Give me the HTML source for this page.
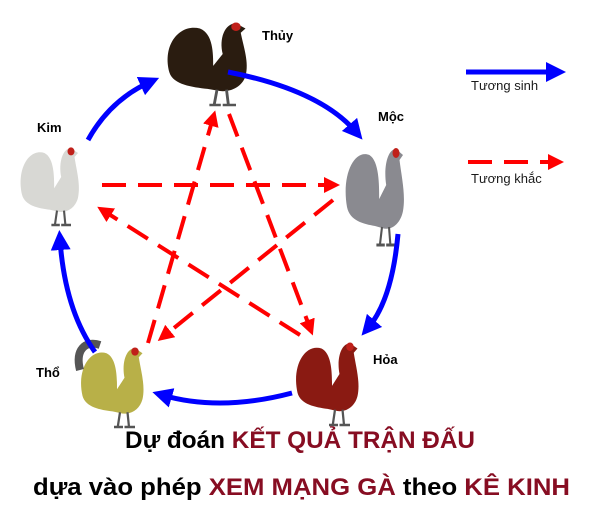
<!DOCTYPE html>
<html><head><meta charset="utf-8"><style>
html,body{margin:0;padding:0;background:#fff;}
svg{display:block;}
.lb{font-family:"Liberation Sans",sans-serif;font-size:13px;font-weight:bold;fill:#000;}
.lg{font-family:"Liberation Sans",sans-serif;font-size:13px;fill:#1a1a1a;}
.t{font-family:"Liberation Sans","Noto Sans CJK SC",sans-serif;font-weight:bold;font-size:24px;fill:#000;}
.r{fill:#870d22;}
</style></head><body>
<svg width="600" height="505" viewBox="0 0 600 505" xmlns="http://www.w3.org/2000/svg">
<defs>
<marker id="ab" markerWidth="4" markerHeight="4" refX="2" refY="2" orient="auto" markerUnits="strokeWidth"><path d="M0,0L4,2L0,4Z" fill="#0000ff"/></marker>
<marker id="ar" markerWidth="4" markerHeight="4" refX="2" refY="2" orient="auto" markerUnits="strokeWidth"><path d="M0,0L4,2L0,4Z" fill="#ff0000"/></marker>
<g id="rooster">
<path d="M10,62 C2,30 20,4 42,10 C56,16 56,40 56,54 L66,40 C62,22 68,4 80,4 L90,10 L85,15 C88,32 94,50 90,66 C86,80 72,86 60,83 L50,81 C34,79 14,76 10,62 Z"/>
<path d="M60,82 L57,100 M70,82 L72,100 M52,100 L64,100 M66,100 L80,100" stroke="#555" stroke-width="3" fill="none"/>
<circle cx="80" cy="8" r="5" fill="#c0201a"/>
</g>
</defs>
<use href="#rooster" transform="translate(160,20) scale(0.95,0.85)" fill="#2a1c10"/>
<use href="#rooster" transform="translate(15,145) scale(0.7,0.8)" fill="#d8d8d4"/>
<use href="#rooster" transform="translate(340,145) scale(0.7,1.0)" fill="#8a8a90"/>
<use href="#rooster" transform="translate(290,340) scale(0.75,0.85)" fill="#8a1a12"/>
<use href="#rooster" transform="translate(75,345) scale(0.75,0.82)" fill="#b8b048"/>
<path d="M80,370 C75,350 85,340 100,345" stroke="#555" stroke-width="8" fill="none"/>
<g stroke="#0000ff" stroke-width="5" fill="none">
<path d="M88,140 Q110,100 150,82" marker-end="url(#ab)"/>
<path d="M228,72 Q320,90 356,132" marker-end="url(#ab)"/>
<path d="M398,234 Q392,300 368,328" marker-end="url(#ab)"/>
<path d="M292,393 Q220,412 162,395" marker-end="url(#ab)"/>
<path d="M95,352 Q65,310 60,240" marker-end="url(#ab)"/>
<path d="M466,72 L556,72" marker-end="url(#ab)"/>
</g>
<g stroke="#ff0000" stroke-width="4" fill="none" stroke-dasharray="24,12">
<path d="M102,185 L332,185" marker-end="url(#ar)"/>
<path d="M333,200 L164,336" marker-end="url(#ar)"/>
<path d="M148,343 L213,118" marker-end="url(#ar)"/>
<path d="M229,114 L310,328" marker-end="url(#ar)"/>
<path d="M300,335 L104,211" marker-end="url(#ar)"/>
<path d="M468,162 L556,162" marker-end="url(#ar)"/>
</g>
<text class="lb" x="262" y="40">Thủy</text>
<text class="lb" x="378" y="121">Mộc</text>
<text class="lb" x="37" y="132">Kim</text>
<text class="lb" x="373" y="364">Hỏa</text>
<text class="lb" x="36" y="377">Thổ</text>
<text class="lg" x="471" y="90">Tương sinh</text>
<text class="lg" x="471" y="183">Tương khắc</text>
<text class="t" x="125" y="448" textLength="350" lengthAdjust="spacingAndGlyphs">Dự đoán <tspan class="r">KẾT QUẢ TRẬN ĐẤU</tspan></text>
<text class="t" x="33" y="495" textLength="537" lengthAdjust="spacingAndGlyphs">dựa vào phép <tspan class="r">XEM MẠNG GÀ</tspan> theo <tspan class="r">KÊ KINH</tspan></text>
</svg>
</body></html>
